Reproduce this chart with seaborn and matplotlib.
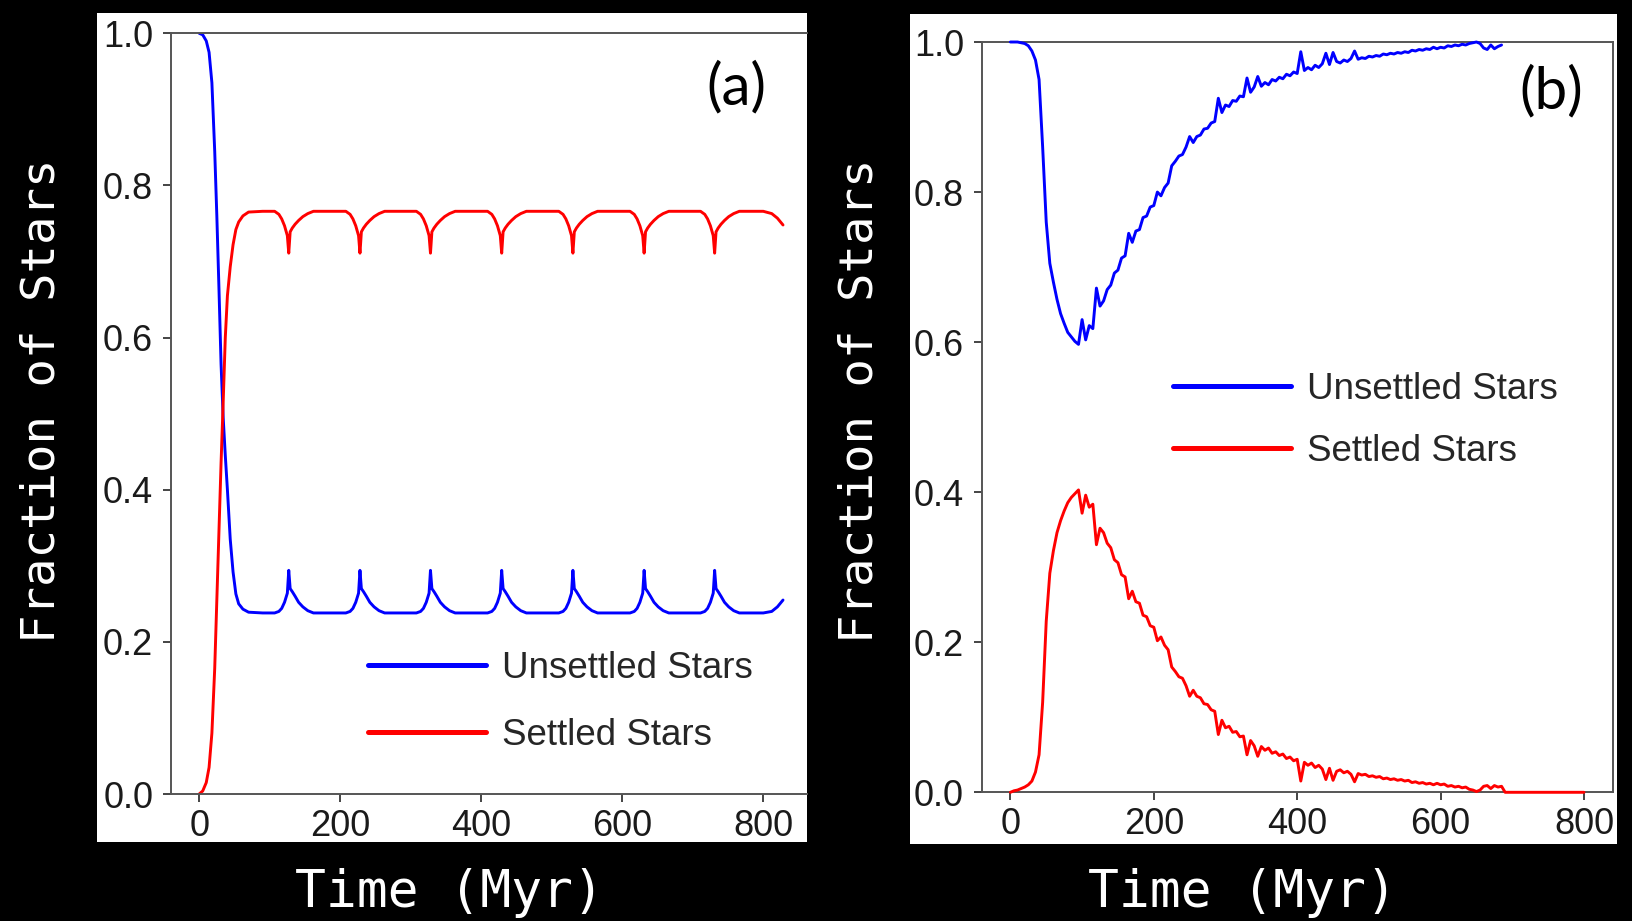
import numpy as np
import pandas as pd
import matplotlib
matplotlib.use("Agg")
import matplotlib.pyplot as plt
from matplotlib.patches import Rectangle
import seaborn as sns

sns.set_style("ticks")
plt.rcParams["font.family"] = ["Liberation Sans", "DejaVu Sans"]

W, H = 1633, 921

# ---- panel (a) data ----
t_a = [0, 5, 10, 14, 18, 22, 25, 28, 31, 34, 37, 40, 44, 48, 52, 56, 62, 70, 90,
       107, 113, 117, 121, 125, 127, 129, 132, 136, 141, 147, 154, 162,
       208, 214, 218, 222, 226, 228, 230, 233, 237, 242, 248, 255, 263,
       308, 314, 318, 322, 326, 328, 330, 333, 337, 342, 348, 355, 363,
       409, 415, 419, 423, 427, 429, 431, 434, 438, 443, 449, 456, 464,
       510, 516, 520, 524, 528, 530, 532, 535, 539, 544, 550, 557, 565,
       611, 617, 621, 625, 629, 631, 633, 636, 640, 645, 651, 658, 666,
       711, 717, 721, 725, 729, 731, 733, 736, 740, 745, 751, 758, 766,
       800, 812, 820, 828]
unsettled_a = [1.000, 0.998, 0.990, 0.975, 0.935, 0.845, 0.760, 0.665, 0.565, 0.495, 0.445, 0.400, 0.335, 0.292, 0.263, 0.250, 0.243, 0.239, 0.238,
               0.238, 0.240, 0.244, 0.252, 0.264, 0.294, 0.270, 0.266, 0.260, 0.252, 0.246, 0.241, 0.238,
               0.238, 0.240, 0.244, 0.252, 0.264, 0.294, 0.270, 0.266, 0.260, 0.252, 0.246, 0.241, 0.238,
               0.238, 0.240, 0.244, 0.252, 0.264, 0.294, 0.270, 0.266, 0.260, 0.252, 0.246, 0.241, 0.238,
               0.238, 0.240, 0.244, 0.252, 0.264, 0.294, 0.270, 0.266, 0.260, 0.252, 0.246, 0.241, 0.238,
               0.238, 0.240, 0.244, 0.252, 0.264, 0.294, 0.270, 0.266, 0.260, 0.252, 0.246, 0.241, 0.238,
               0.238, 0.240, 0.244, 0.252, 0.264, 0.294, 0.270, 0.266, 0.260, 0.252, 0.246, 0.241, 0.238,
               0.238, 0.240, 0.244, 0.252, 0.264, 0.294, 0.270, 0.266, 0.260, 0.252, 0.246, 0.241, 0.238,
               0.238, 0.240, 0.246, 0.255]
settled_a = [0.000, 0.004, 0.015, 0.035, 0.080, 0.165, 0.255, 0.345, 0.435, 0.515, 0.600, 0.655, 0.693, 0.722, 0.742, 0.752, 0.760, 0.765, 0.766,
             0.766, 0.762, 0.756, 0.747, 0.734, 0.711, 0.739, 0.744, 0.749, 0.754, 0.759, 0.763, 0.766,
             0.766, 0.762, 0.756, 0.747, 0.734, 0.711, 0.739, 0.744, 0.749, 0.754, 0.759, 0.763, 0.766,
             0.766, 0.762, 0.756, 0.747, 0.734, 0.711, 0.739, 0.744, 0.749, 0.754, 0.759, 0.763, 0.766,
             0.766, 0.762, 0.756, 0.747, 0.734, 0.711, 0.739, 0.744, 0.749, 0.754, 0.759, 0.763, 0.766,
             0.766, 0.762, 0.756, 0.747, 0.734, 0.711, 0.739, 0.744, 0.749, 0.754, 0.759, 0.763, 0.766,
             0.766, 0.762, 0.756, 0.747, 0.734, 0.711, 0.739, 0.744, 0.749, 0.754, 0.759, 0.763, 0.766,
             0.766, 0.762, 0.756, 0.747, 0.734, 0.711, 0.739, 0.744, 0.749, 0.754, 0.759, 0.763, 0.766,
             0.766, 0.763, 0.757, 0.748]

# ---- panel (b) data ----
t_b = list(range(0, 690, 5))
unsettled_b = [1.000, 1.000, 1.000, 0.999, 0.998, 0.995, 0.988, 0.976, 0.950, 0.860,
               0.760, 0.705, 0.680, 0.657, 0.638, 0.625, 0.613, 0.607, 0.601, 0.597,
               0.630, 0.603, 0.622, 0.618, 0.672, 0.648, 0.655, 0.670, 0.676, 0.692,
               0.696, 0.712, 0.715, 0.745, 0.733, 0.748, 0.750, 0.766, 0.768, 0.780,
               0.782, 0.800, 0.795, 0.806, 0.812, 0.835, 0.841, 0.848, 0.850, 0.860,
               0.874, 0.866, 0.874, 0.876, 0.884, 0.885, 0.892, 0.894, 0.925, 0.906,
               0.916, 0.914, 0.922, 0.921, 0.928, 0.927, 0.952, 0.933, 0.940, 0.954,
               0.941, 0.946, 0.943, 0.950, 0.948, 0.953, 0.951, 0.957, 0.955, 0.960,
               0.958, 0.987, 0.962, 0.966, 0.963, 0.969, 0.966, 0.971, 0.985, 0.970,
               0.986, 0.974, 0.972, 0.976, 0.974, 0.978, 0.988, 0.977, 0.979, 0.978,
               0.981, 0.980, 0.982, 0.981, 0.984, 0.983, 0.985, 0.984, 0.986, 0.985,
               0.987, 0.986, 0.989, 0.988, 0.990, 0.989, 0.991, 0.990, 0.993, 0.991,
               0.993, 0.992, 0.995, 0.994, 0.996, 0.995, 0.997, 0.996, 0.998, 0.999,
               1.000, 0.998, 0.992, 0.990, 0.996, 0.991, 0.994, 0.996]
settled_b = [0.000, 0.002, 0.003, 0.005, 0.007, 0.010, 0.015, 0.027, 0.050, 0.120,
             0.228, 0.292, 0.322, 0.346, 0.362, 0.375, 0.386, 0.393, 0.398, 0.403,
             0.372, 0.396, 0.380, 0.384, 0.330, 0.352, 0.346, 0.332, 0.326, 0.310,
             0.306, 0.290, 0.287, 0.258, 0.268, 0.254, 0.252, 0.236, 0.234, 0.222,
             0.220, 0.202, 0.207, 0.196, 0.190, 0.167, 0.161, 0.154, 0.152, 0.142,
             0.128, 0.136, 0.128, 0.126, 0.118, 0.117, 0.110, 0.108, 0.077, 0.096,
             0.086, 0.088, 0.080, 0.081, 0.074, 0.075, 0.050, 0.069, 0.062, 0.048,
             0.061, 0.056, 0.059, 0.052, 0.054, 0.049, 0.051, 0.045, 0.047, 0.042,
             0.044, 0.015, 0.040, 0.036, 0.039, 0.033, 0.036, 0.031, 0.017, 0.032,
             0.016, 0.028, 0.030, 0.026, 0.028, 0.024, 0.014, 0.025, 0.023, 0.024,
             0.021, 0.022, 0.020, 0.021, 0.018, 0.019, 0.017, 0.018, 0.016, 0.017,
             0.015, 0.016, 0.013, 0.014, 0.012, 0.013, 0.011, 0.012, 0.010, 0.012,
             0.010, 0.011, 0.008, 0.009, 0.007, 0.008, 0.006, 0.007, 0.004, 0.003,
             0.001, 0.003, 0.008, 0.009, 0.005, 0.009, 0.007, 0.008]
t_b_tail = [690, 800]
settled_b_tail = [0.000, 0.000]

xticks = [0, 200, 400, 600, 800]
yticks = [0.0, 0.2, 0.4, 0.6, 0.8, 1.0]

fig = plt.figure(figsize=(W / 100, H / 100), dpi=100, facecolor="black")

# white "screenshot" panels behind each plot
fig.add_artist(Rectangle((97 / W, 1 - 842 / H), (807 - 97) / W, (842 - 12.7) / H,
                         transform=fig.transFigure, facecolor="white", edgecolor="none", zorder=0))
fig.add_artist(Rectangle((910 / W, 1 - 844 / H), (1616.7 - 910) / W, (844 - 14.3) / H,
                         transform=fig.transFigure, facecolor="white", edgecolor="none", zorder=0))

ax_a = fig.add_axes([171 / W, 1 - 794 / H, (807 - 171) / W, (794 - 33.3) / H])
ax_b = fig.add_axes([981.7 / W, 1 - 792.3 / H, (1612.7 - 981.7) / W, (792.3 - 42) / H])

lw = 2.1
sns.lineplot(x=t_a, y=unsettled_a, ax=ax_a, color="blue", lw=lw, label="Unsettled Stars",
             sort=False, estimator=None)
sns.lineplot(x=t_a, y=settled_a, ax=ax_a, color="red", lw=lw, label="Settled Stars",
             sort=False, estimator=None)

sns.lineplot(x=t_b, y=unsettled_b, ax=ax_b, color="blue", lw=lw, label="Unsettled Stars",
             sort=False, estimator=None)
sns.lineplot(x=t_b + t_b_tail, y=settled_b + settled_b_tail, ax=ax_b, color="red", lw=lw,
             label="Settled Stars", sort=False, estimator=None)
# lines sitting on 0.0 should not be cut in half by the axes clip
for line in ax_b.get_lines():
    line.set_clip_on(False)
    line.set_zorder(3)

ax_a.set_xlim(-40, 862)
ax_b.set_xlim(-40, 840)

for ax in (ax_a, ax_b):
    ax.set_facecolor("white")
    ax.set_ylim(0, 1)
    ax.set_xticks(xticks)
    ax.set_yticks(yticks)
    ax.set_yticklabels([f"{v:.1f}" for v in yticks])
    ax.set_xlabel("")
    ax.set_ylabel("")
    ax.tick_params(axis="both", labelsize=26, length=5.8, width=1.4, color="#444444",
                   labelcolor="#1a1a1a")
    ax.tick_params(axis="y", pad=7)
    ax.tick_params(axis="x", pad=5)
    for s in ax.spines.values():
        s.set_color("#555555")
        s.set_linewidth(1.4)
ax_a.spines["right"].set_visible(False)

leg_specs = [(ax_a, 368, 702, 0.85), (ax_b, 1173, 420.5, 0.75)]
for ax, lx, ly, spacing in leg_specs:
    leg = ax.legend(loc="center left", bbox_to_anchor=(lx / W, 1 - ly / H),
                    bbox_transform=fig.transFigure, frameon=False, fontsize=26.5,
                    handlelength=3.2, handletextpad=0.45, labelspacing=spacing,
                    borderpad=0, borderaxespad=0)
    for line in leg.get_lines():
        line.set_linewidth(3.6)

ax_a.text(736 / W, 1 - 88 / H, "(a)", transform=fig.transFigure, ha="center", va="center",
          fontsize=42, family="Lato", color="black")
ax_b.text(1551 / W, 1 - 92 / H, "(b)", transform=fig.transFigure, ha="center", va="center",
          fontsize=42, family="Lato", color="black")

for cx in (42, 860):
    fig.text(cx / W, 1 - 401 / H, "Fraction of Stars", rotation=90, ha="center", va="center",
             fontsize=34, family="DejaVu Sans Mono", color="white")
for cx in (449, 1242):
    fig.text(cx / W, 1 - 893 / H, "Time (Myr)", ha="center", va="center",
             fontsize=37, family="DejaVu Sans Mono", color="white")

fig.savefig("out.png", dpi=100, facecolor="black")
